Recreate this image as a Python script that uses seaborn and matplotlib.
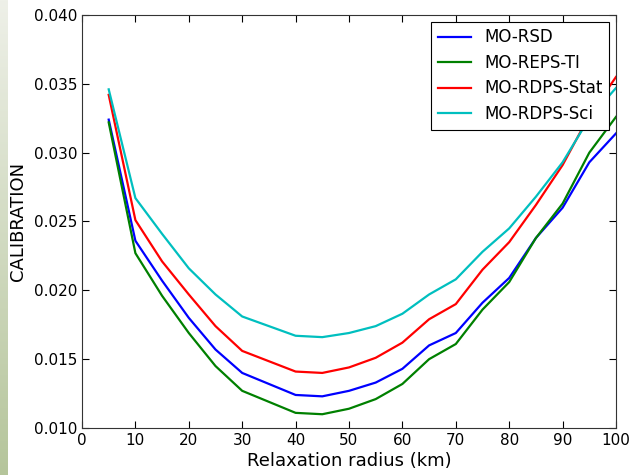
import matplotlib
matplotlib.use("Agg")
import matplotlib.pyplot as plt
import seaborn as sns
import pandas as pd
import numpy as np

radius = [5, 10, 15, 20, 25, 30, 40, 45, 50, 55, 60, 65, 70, 75, 80, 85, 90, 95, 100]

mo_rsd = [0.0324, 0.0236, 0.0207, 0.0180, 0.0157, 0.0140, 0.0124, 0.0123, 0.0127, 0.0133,
          0.0143, 0.0160, 0.0169, 0.0191, 0.0209, 0.0238, 0.0260, 0.0293, 0.0314]
mo_reps_ti = [0.0322, 0.0227, 0.0196, 0.0169, 0.0145, 0.0127, 0.0111, 0.0110, 0.0114, 0.0121,
              0.0132, 0.0150, 0.0161, 0.0186, 0.0206, 0.0238, 0.0263, 0.0300, 0.0326]
mo_rdps_stat = [0.0342, 0.0251, 0.0221, 0.0197, 0.0174, 0.0156, 0.0141, 0.0140, 0.0144, 0.0151,
                0.0162, 0.0179, 0.0190, 0.0215, 0.0235, 0.0262, 0.0291, 0.0327, 0.0355]
mo_rdps_sci = [0.0346, 0.0267, 0.0241, 0.0216, 0.0197, 0.0181, 0.0167, 0.0166, 0.0169, 0.0174,
               0.0183, 0.0197, 0.0208, 0.0228, 0.0245, 0.0268, 0.0293, 0.0325, 0.0347]

names = ["MO-RSD", "MO-REPS-TI", "MO-RDPS-Stat", "MO-RDPS-Sci"]
colors = ["#0000ff", "#008000", "#ff0000", "#00bfbf"]

df = pd.DataFrame({
    "radius": radius * 4,
    "value": mo_rsd + mo_reps_ti + mo_rdps_stat + mo_rdps_sci,
    "method": [n for n in names for _ in radius],
})

plt.rcParams["font.family"] = ["DejaVu Sans"]
plt.rcParams["xtick.direction"] = "in"
plt.rcParams["ytick.direction"] = "in"

fig = plt.figure(figsize=(6.33, 4.75), dpi=100)

# greenish strip on the left edge of the screenshot
strip = fig.add_axes([0, 0, 8 / 633, 1])
grad = np.linspace(0, 1, 256).reshape(-1, 1)
strip.imshow(grad, aspect="auto", cmap=matplotlib.colors.LinearSegmentedColormap.from_list(
    "strip", ["#eef0e8", "#b5c59b"]))
strip.axis("off")

ax = fig.add_axes([82 / 633, 1 - 428 / 475, (616 - 82) / 633, (428 - 15) / 475])
sns.lineplot(data=df, x="radius", y="value", hue="method", palette=colors,
             hue_order=names, linewidth=1.6, ax=ax)

ax.set_xlim(0, 100)
ax.set_ylim(0.010, 0.040)
ax.set_xticks(range(0, 101, 10))
ax.set_yticks(np.arange(0.010, 0.0401, 0.005))
ax.yaxis.set_major_formatter(matplotlib.ticker.FormatStrFormatter("%.3f"))
ax.tick_params(top=True, right=True, labelsize=11, length=5, width=0.8)
for s in ax.spines.values():
    s.set_color("#333333")
ax.set_xlabel("Relaxation radius (km)", fontsize=13, labelpad=3)
ax.set_ylabel("CALIBRATION", fontsize=13, labelpad=5)

leg = ax.legend(loc="upper right", fontsize=12, fancybox=False, framealpha=1,
                edgecolor="black", borderaxespad=0.4, handlelength=2.0,
                labelspacing=0.45)
leg.get_frame().set_linewidth(0.8)

fig.savefig("out.png", dpi=100)
